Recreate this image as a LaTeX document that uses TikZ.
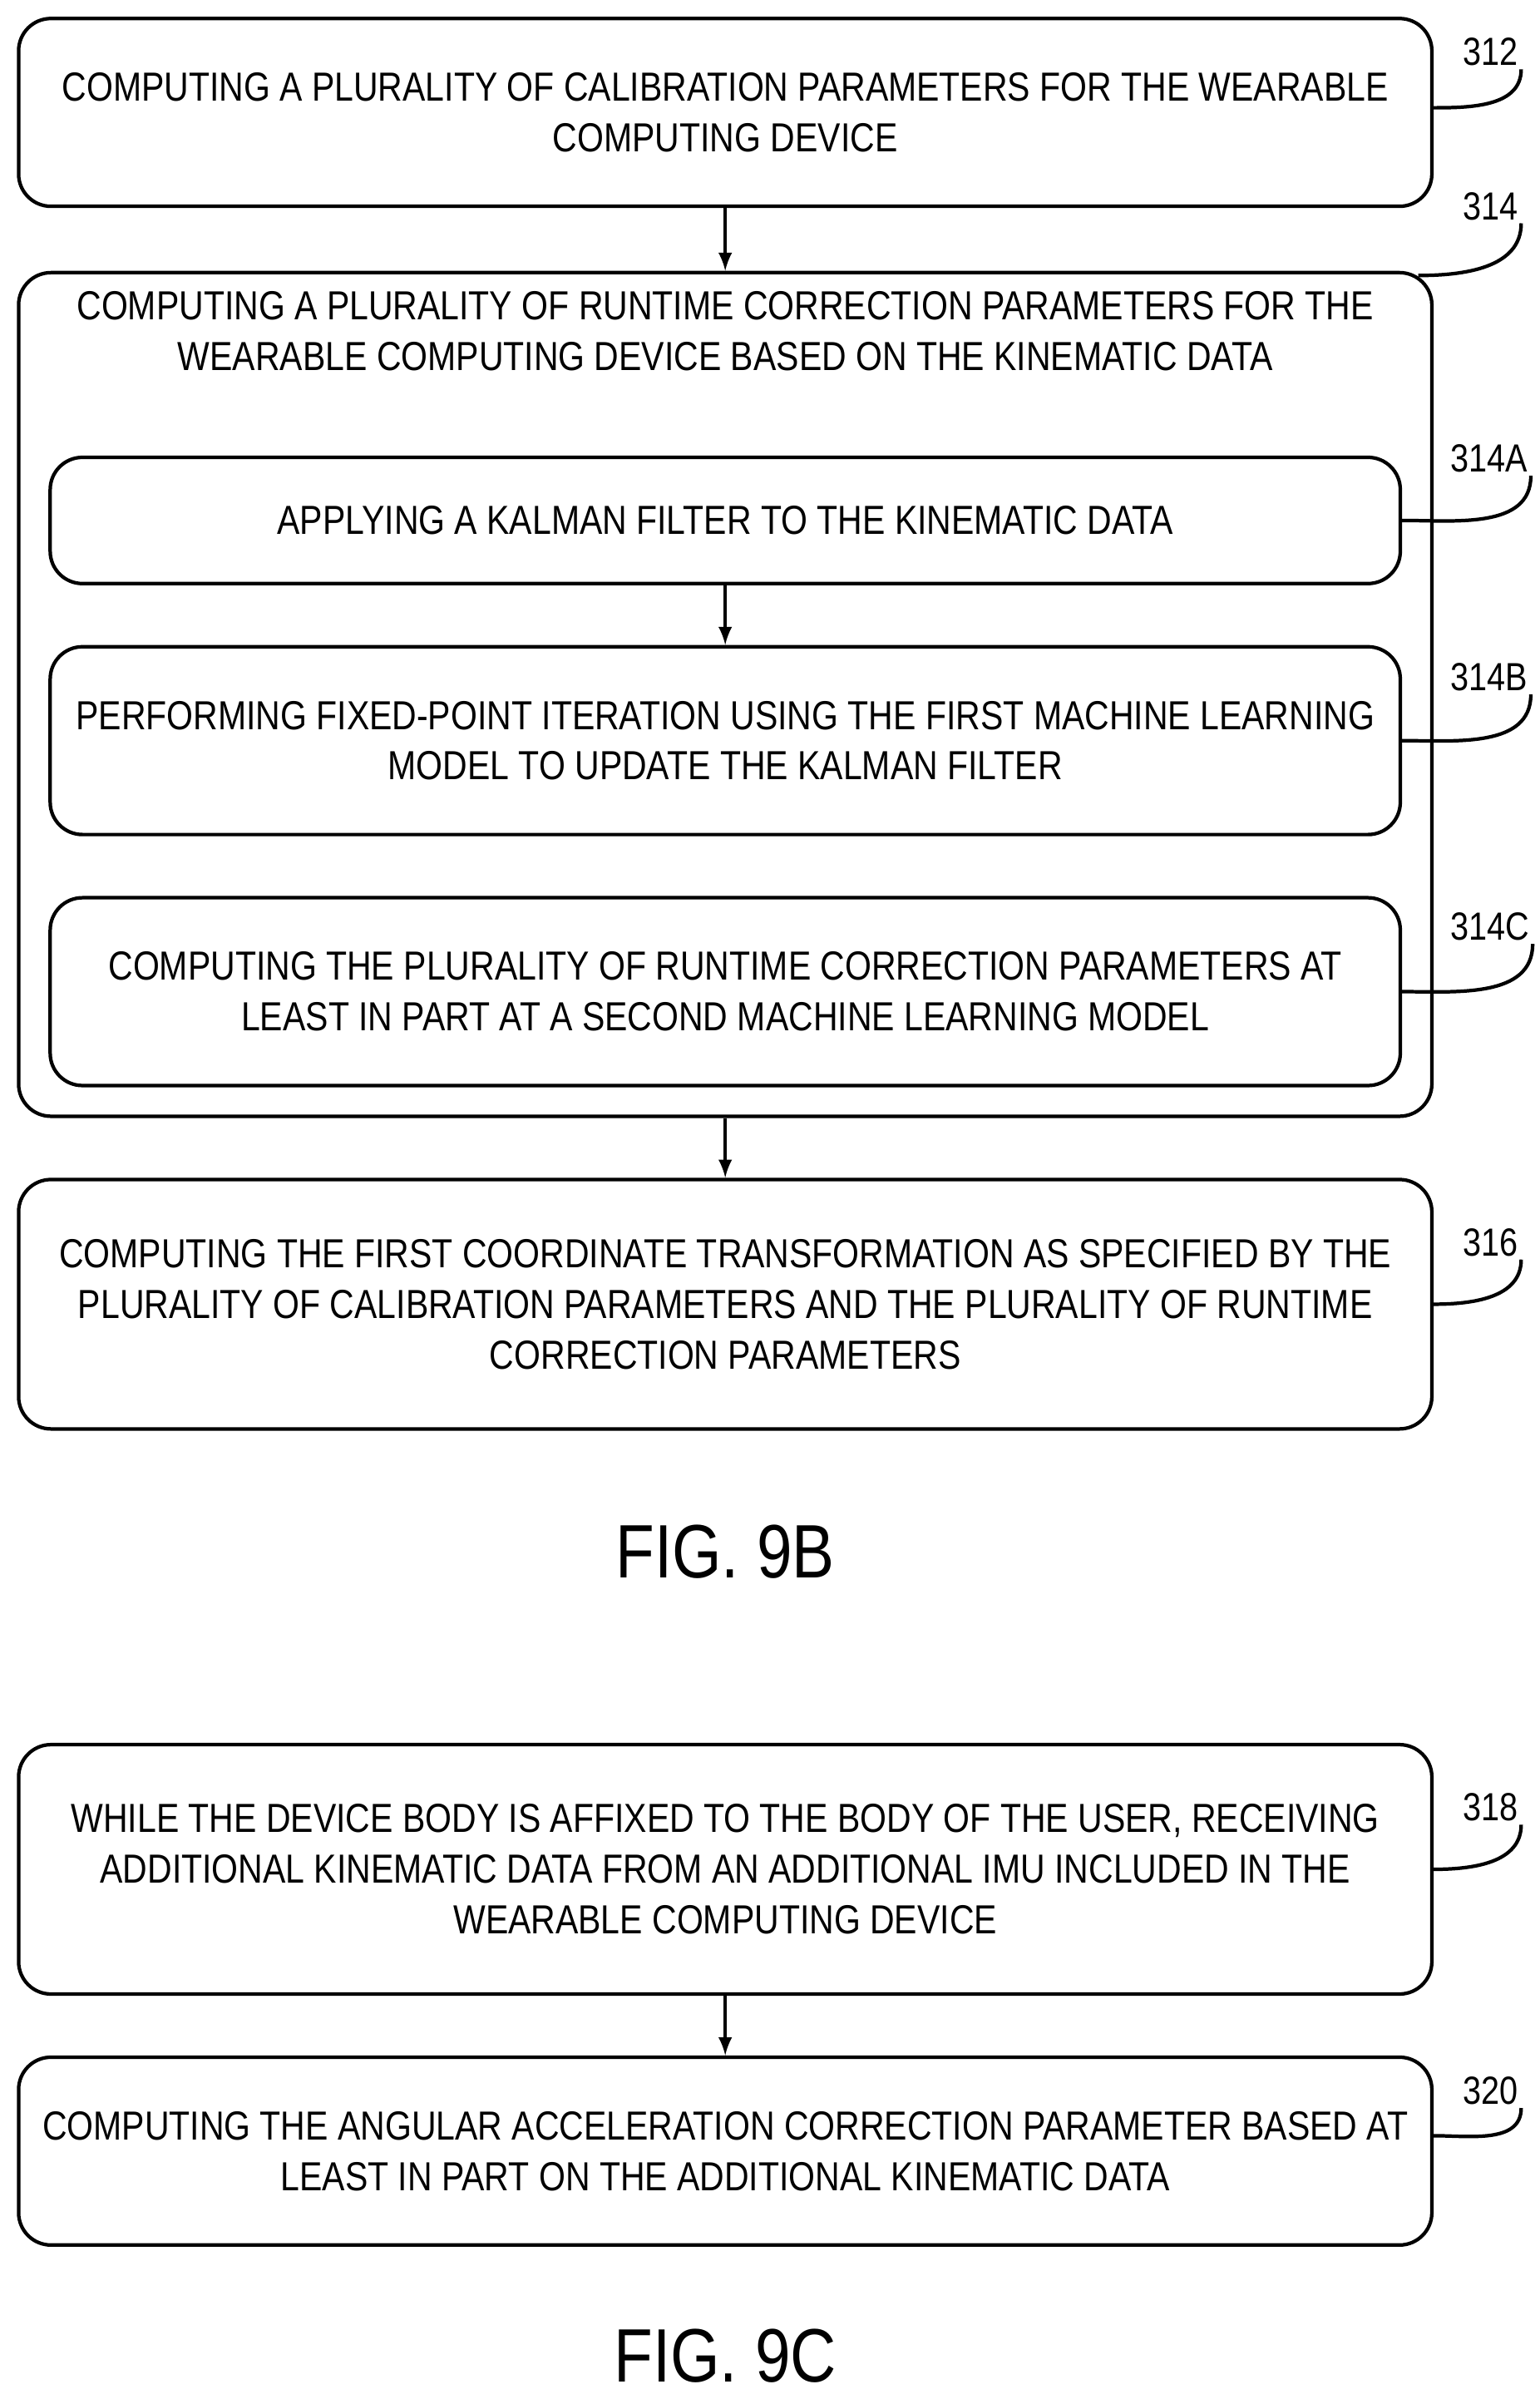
\documentclass[tikz,border=0pt]{standalone}
\usepackage{fontspec}
\setmainfont{Liberation Sans}[FakeStretch=0.84]
\usetikzlibrary{positioning}
\tikzset{
  box/.style={draw, line width=1.3pt, rounded corners=0.42cm, align=center,
    font=\fontsize{15}{18.7}\selectfont, inner sep=0pt},
  ref/.style={font=\fontsize{14.5}{17}\selectfont, anchor=south west, inner sep=1pt},
  lead/.style={line width=1.3pt},
  flow/.style={-latex, line width=1.3pt},
  fig/.style={font=\fontsize{28}{32}\selectfont}
}
\begin{document}
\begin{tikzpicture}[x=0.02cm, y=-0.02cm]
  \useasboundingbox (0,0) rectangle (1000,1558);

  % Boxes
  \node[box, minimum width=18.36cm, minimum height=2.44cm] (b312) at (471,73)
    {COMPUTING A PLURALITY OF CALIBRATION PARAMETERS FOR THE WEARABLE\\COMPUTING DEVICE};
  \node[box, minimum width=18.36cm, minimum height=10.96cm] (b314) at (471,451) {};
  \node[box, draw=none] (t314) at (471,215)
    {COMPUTING A PLURALITY OF RUNTIME CORRECTION PARAMETERS FOR THE\\WEARABLE COMPUTING DEVICE BASED ON THE KINEMATIC DATA};
  \node[box, minimum width=17.54cm, minimum height=1.64cm] (b314a) at (471,338)
    {APPLYING A KALMAN FILTER TO THE KINEMATIC DATA};
  \node[box, minimum width=17.54cm, minimum height=2.44cm] (b314b) at (471,481)
    {PERFORMING FIXED-POINT ITERATION USING THE FIRST MACHINE LEARNING\\MODEL TO UPDATE THE KALMAN FILTER};
  \node[box, minimum width=17.54cm, minimum height=2.44cm] (b314c) at (471,644)
    {COMPUTING THE PLURALITY OF RUNTIME CORRECTION PARAMETERS AT\\LEAST IN PART AT A SECOND MACHINE LEARNING MODEL};
  \node[box, minimum width=18.36cm, minimum height=3.24cm] (b316) at (471,847)
    {COMPUTING THE FIRST COORDINATE TRANSFORMATION AS SPECIFIED BY THE\\PLURALITY OF CALIBRATION PARAMETERS AND THE PLURALITY OF RUNTIME\\CORRECTION PARAMETERS};
  \node[fig] (fig9b) at (471,1008) {FIG. 9B};
  \node[box, minimum width=18.36cm, minimum height=3.24cm] (b318) at (471,1214)
    {WHILE THE DEVICE BODY IS AFFIXED TO THE BODY OF THE USER, RECEIVING\\ADDITIONAL KINEMATIC DATA FROM AN ADDITIONAL IMU INCLUDED IN THE\\WEARABLE COMPUTING DEVICE};
  \node[box, minimum width=18.36cm, minimum height=2.44cm] (b320) at (471,1397)
    {COMPUTING THE ANGULAR ACCELERATION CORRECTION PARAMETER BASED AT\\LEAST IN PART ON THE ADDITIONAL KINEMATIC DATA};
  \node[fig] (fig9c) at (471,1530) {FIG. 9C};

  % Flow arrows
  \draw[flow] (b312) -- (b314);
  \draw[flow] (b314a) -- (b314b);
  \draw[flow] (b314) -- (b316);
  \draw[flow] (b318) -- (b320);

  % Reference labels
  \node[ref] (l312) at (948,45) {312};
  \node[ref] (l314) at (948,145) {314};
  \node[ref] (l314a) at (940,309) {314A};
  \node[ref] (l314b) at (940,451) {314B};
  \node[ref] (l314c) at (940,613) {314C};
  \node[ref] (l316) at (948,818) {316};
  \node[ref] (l318) at (948,1185) {318};
  \node[ref] (l320) at (948,1369) {320};

  \draw[lead] (b312.east) ++(0,-3) to[out=0, in=-90] (l312.south east);
  \draw[lead] (b314.north east) ++(-10,3) to[out=0, in=-90] (l314.south east);
  \draw[lead] (b314a.east) to[out=0, in=-90] (l314a.south east);
  \draw[lead] (b314b.east) to[out=0, in=-90] (l314b.south east);
  \draw[lead] (b314c.east) to[out=0, in=-90] (l314c.south east);
  \draw[lead] (b316.east) to[out=0, in=-90] (l316.south east);
  \draw[lead] (b318.east) to[out=0, in=-90] (l318.south east);
  \draw[lead] (b320.east) ++(0,-10) to[out=0, in=-90] (l320.south east);
\end{tikzpicture}
\end{document}
